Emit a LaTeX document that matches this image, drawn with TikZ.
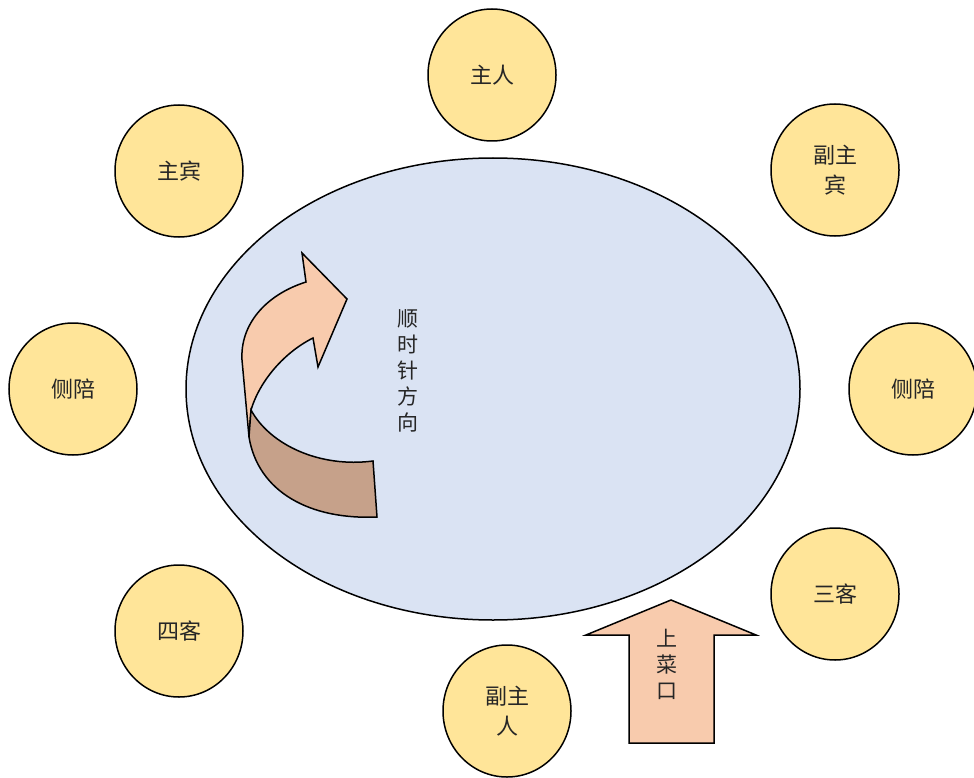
\documentclass[tikz,border=0pt]{standalone}
\usepackage{fontspec}
\setmainfont{Noto Sans CJK SC}
\usetikzlibrary{shapes.geometric}
\definecolor{seatfill}{HTML}{FFE599}
\definecolor{tablefill}{HTML}{DAE3F3}
\definecolor{lightarrow}{HTML}{F8CBAD}
\definecolor{darkarrow}{HTML}{C6A18A}
\definecolor{txt}{HTML}{262626}
\tikzset{
  seat/.style={ellipse, draw=black, line width=1.5pt, fill=seatfill,
    minimum width=128pt, minimum height=132pt, inner sep=0pt,
    align=center, font=\fontsize{22}{30}\selectfont, text=txt},
  tbl/.style={ellipse, draw=black, line width=1.5pt, fill=tablefill,
    minimum width=614pt, minimum height=462pt},
  shapeline/.style={draw=black, line width=1.5pt, line join=miter},
  vtext/.style={align=center, inner sep=0pt, font=\fontsize{21}{26}\selectfont, text=txt}
}
\begin{document}
\begin{tikzpicture}[x=1pt,y=-1pt]
\useasboundingbox (0,0) rectangle (974,778);
\node[tbl] (table) at (493,389) {};
% seats
\node[seat] (host) at (492,75) {主人};
\node[seat] (guest1) at (179,171) {主宾};
\node[seat] (guest2) at (835,170) {副主\\宾};
\node[seat] (sideL) at (73,389) {侧陪};
\node[seat] (sideR) at (913,389) {侧陪};
\node[seat] (guest4) at (179,631) {四客};
\node[seat] (guest3) at (835,594) {三客};
\node[seat] (host2) at (507,711) {副主\\人};
% curved arrow (clockwise)
\path[shapeline, fill=lightarrow]
  (306,282) -- (302,253) -- (347,299) -- (318,367) -- (313,338)
  .. controls (285,352) and (260,380) .. (251,410)
  -- (249,437) -- (242,360)
  .. controls (240,325) and (265,295) .. (306,282) -- cycle;
\path[shapeline, fill=darkarrow]
  (251,410) .. controls (270,445) and (320,468) .. (373,461)
  -- (377,517)
  .. controls (310,520) and (258,492) .. (249,437) -- cycle;
\node[vtext] (cw) at (408,371) {顺\\时\\针\\方\\向};
% serving entrance arrow
\path[shapeline, fill=lightarrow]
  (671,600) -- (756,635) -- (714,635) -- (714,743) -- (629,743) -- (629,635) -- (586,635) -- cycle;
\node[vtext] (serve) at (667,664) {上\\菜\\口};
\end{tikzpicture}
\end{document}
